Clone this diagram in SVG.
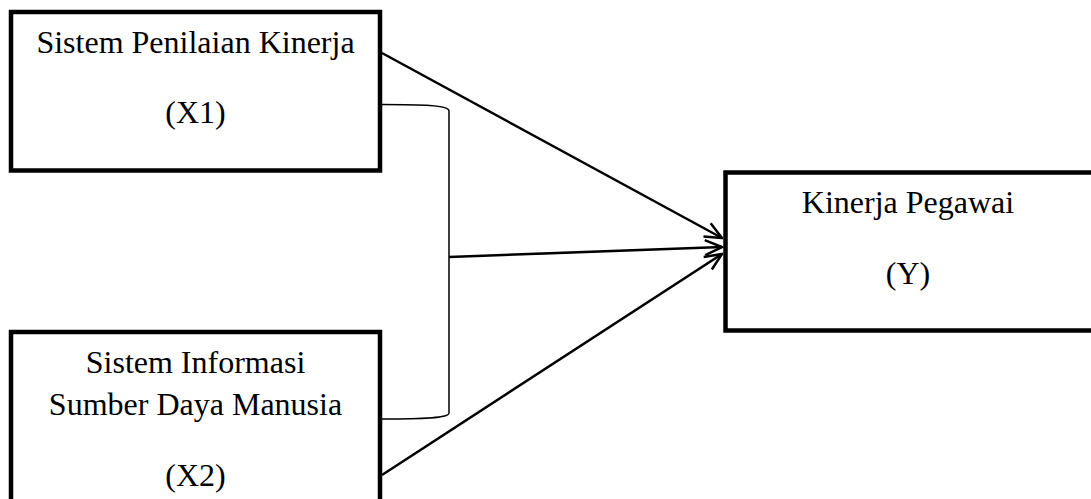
<svg xmlns="http://www.w3.org/2000/svg" width="1091" height="499" viewBox="0 0 1091 499">
  <style>
    .box { fill: #ffffff; stroke: #000000; stroke-width: 4.5; }
    .label { font-family: "Liberation Serif", "Times New Roman", serif; font-size: 32px; fill: #000000; text-anchor: middle; }
    .link { stroke: #000000; stroke-width: 2.5; fill: none; }
    .brace { stroke: #000000; stroke-width: 1.5; fill: none; }
  </style>
  <defs>
    <marker id="arrow" viewBox="0 0 20 18" refX="18.5" refY="9" markerWidth="20" markerHeight="18" markerUnits="userSpaceOnUse" orient="auto">
      <path d="M1.5,1.5 L18.5,9 L1.5,16.5" stroke="#000000" stroke-width="2.5" fill="none"/>
    </marker>
  </defs>
  <rect width="1091" height="499" fill="#ffffff"/>

  <g id="connectors">
    <!-- bracket joining X1 and X2 -->
    <path class="brace" d="M382,104.5 C420,104.5 449,105 449,111 L449,413 C449,418.5 420,419 382,419"/>
    <line class="link" x1="382" y1="53" x2="722" y2="238" marker-end="url(#arrow)"/>
    <line class="link" x1="449" y1="257" x2="722" y2="247" marker-end="url(#arrow)"/>
    <line class="link" x1="382" y1="475" x2="722" y2="254" marker-end="url(#arrow)"/>
  </g>

  <g id="node-x1">
    <rect class="box" x="11" y="12" width="369" height="158.5"/>
    <text class="label" x="195.5" y="53">Sistem Penilaian Kinerja</text>
    <text class="label" x="195.5" y="123">(X1)</text>
  </g>

  <g id="node-x2">
    <rect class="box" x="11" y="332" width="369" height="200"/>
    <text class="label" x="195.5" y="373">Sistem Informasi</text>
    <text class="label" x="195.5" y="415">Sumber Daya Manusia</text>
    <text class="label" x="195.5" y="486">(X2)</text>
  </g>

  <g id="node-y">
    <rect class="box" x="725.5" y="172.5" width="368" height="158"/>
    <text class="label" x="908" y="213">Kinerja Pegawai</text>
    <text class="label" x="908" y="284">(Y)</text>
  </g>
</svg>
